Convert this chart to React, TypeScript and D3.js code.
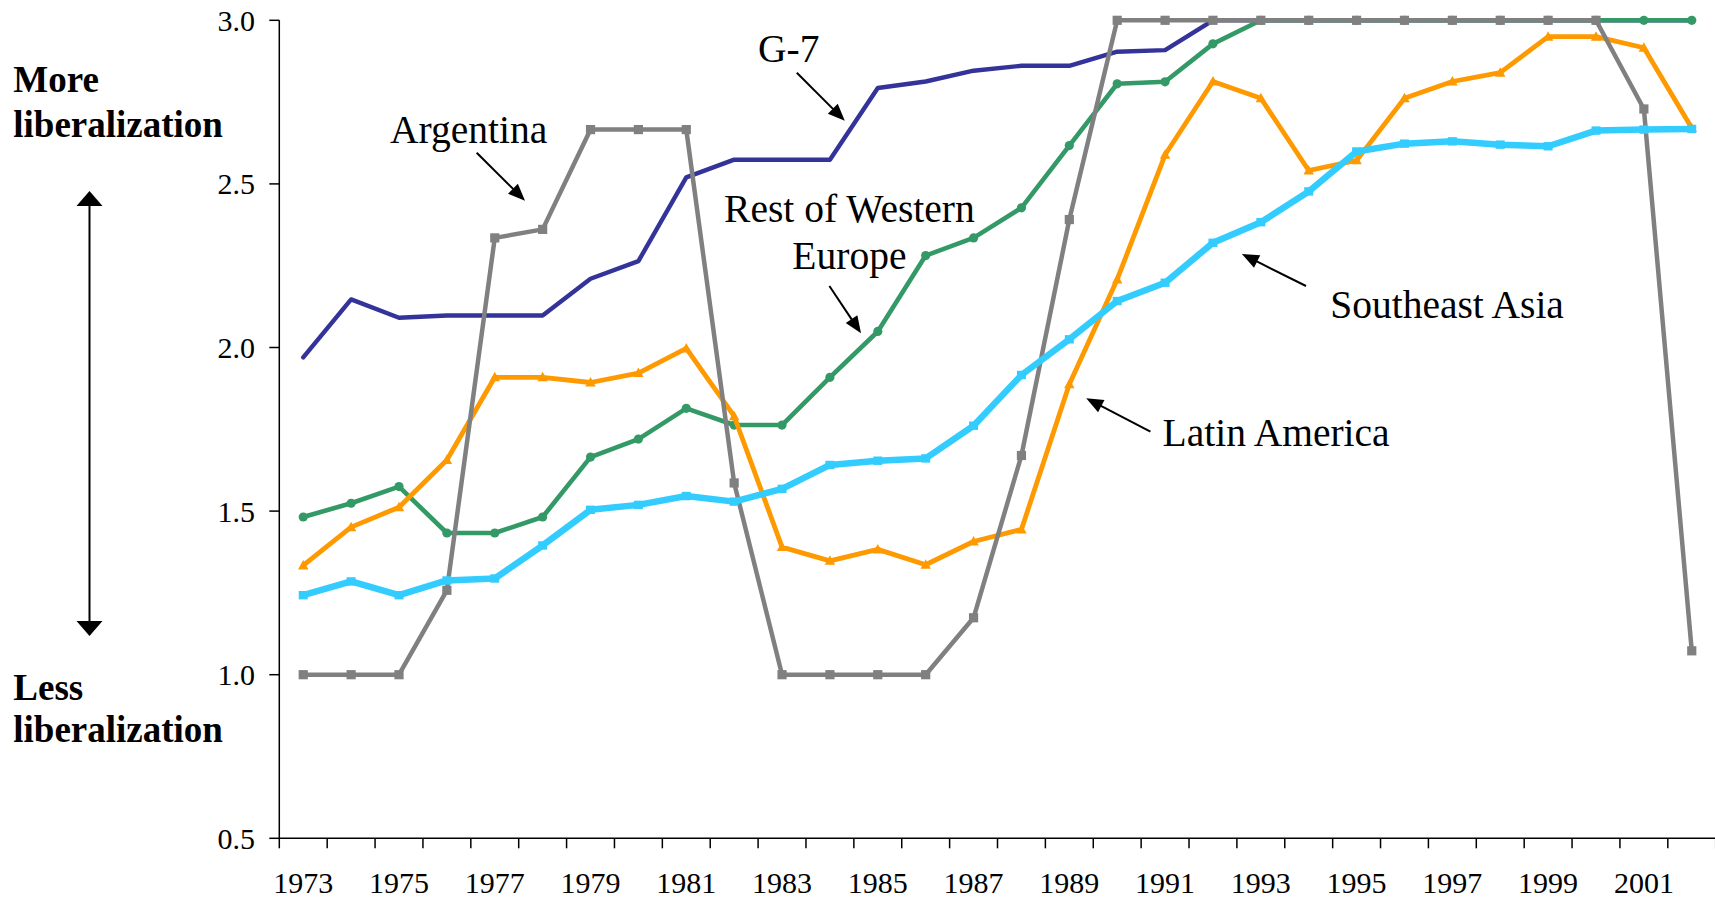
import React from "react";
import * as d3 from "d3";

const years = [1973, 1974, 1975, 1976, 1977, 1978, 1979, 1980, 1981, 1982, 1983, 1984, 1985, 1986, 1987, 1988, 1989, 1990, 1991, 1992, 1993, 1994, 1995, 1996, 1997, 1998, 1999, 2000, 2001, 2002];
const yTicks = [0.5, 1.0, 1.5, 2.0, 2.5, 3.0];
const xLabelYears = [1973, 1975, 1977, 1979, 1981, 1983, 1985, 1987, 1989, 1991, 1993, 1995, 1997, 1999, 2001];

const g7 = [1.97, 2.147, 2.091, 2.098, 2.098, 2.098, 2.21, 2.264, 2.52, 2.574, 2.574, 2.574, 2.793, 2.813, 2.846, 2.861, 2.861, 2.904, 2.909, 3.0, 3.0, 3.0, 3.0, 3.0, 3.0, 3.0, 3.0, 3.0, 3.0, 3.0];
const argentina = [1.0, 1.0, 1.0, 1.258, 2.335, 2.361, 2.666, 2.666, 2.666, 1.586, 1.0, 1.0, 1.0, 1.0, 1.174, 1.67, 2.391, 3.0, 3.0, 3.0, 3.0, 3.0, 3.0, 3.0, 3.0, 3.0, 3.0, 3.0, 2.729, 1.073];
const restWesternEurope = [1.482, 1.524, 1.575, 1.433, 1.433, 1.482, 1.665, 1.72, 1.814, 1.763, 1.763, 1.909, 2.049, 2.281, 2.335, 2.427, 2.617, 2.806, 2.812, 2.928, 3.0, 3.0, 3.0, 3.0, 3.0, 3.0, 3.0, 3.0, 3.0, 3.0];
const latinAmerica = [1.334, 1.451, 1.512, 1.656, 1.909, 1.909, 1.893, 1.922, 1.997, 1.79, 1.39, 1.348, 1.383, 1.336, 1.407, 1.444, 1.888, 2.208, 2.589, 2.813, 2.762, 2.541, 2.572, 2.762, 2.813, 2.84, 2.95, 2.95, 2.916, 2.671];
const southeastAsia = [1.243, 1.285, 1.243, 1.288, 1.294, 1.395, 1.504, 1.519, 1.546, 1.529, 1.568, 1.641, 1.654, 1.661, 1.761, 1.916, 2.025, 2.142, 2.198, 2.32, 2.383, 2.477, 2.599, 2.623, 2.63, 2.62, 2.615, 2.663, 2.666, 2.668];

const FONT = "'Liberation Serif', 'Times New Roman', Times, serif";

const W = 1715;
const H = 900;
const left = 279.3;
const right = 1715.7;
const top = 20.3;
const bottom = 838.3;

const x = d3.scaleBand<number>().domain(years).range([left, right]).padding(0);
const y = d3.scaleLinear().domain([0.5, 3.0]).range([bottom, top]);
const cx = (yr: number) => (x(yr) as number) + x.bandwidth() / 2;

type Series = { name: string; values: number[]; color: string; width: number; marker: "none" | "circle" | "square" | "triangle" | "rect" };

const series: Series[] = [
  { name: "G-7", values: g7, color: "#333399", width: 4.4, marker: "none" },
  { name: "Rest of Western Europe", values: restWesternEurope, color: "#339966", width: 4.6, marker: "circle" },
  { name: "Latin America", values: latinAmerica, color: "#FF9900", width: 4.8, marker: "triangle" },
  { name: "Argentina", values: argentina, color: "#808080", width: 4.5, marker: "square" },
  { name: "Southeast Asia", values: southeastAsia, color: "#33CCFF", width: 6.5, marker: "rect" },
];

const lineGen = d3
  .line<number>()
  .x((_, i) => cx(years[i]))
  .y((v) => y(v));

function Marker({ kind, px, py, color }: { kind: string; px: number; py: number; color: string }) {
  if (kind === "circle") return <circle cx={px} cy={py} r={4.6} fill={color} />;
  if (kind === "square") return <rect x={px - 4.6} y={py - 4.6} width={9.2} height={9.2} fill={color} />;
  if (kind === "triangle")
    return <path d={`M${px},${py - 5.5}L${px + 5.2},${py + 4}L${px - 5.2},${py + 4}Z`} fill={color} />;
  if (kind === "rect") return <rect x={px - 4.5} y={py - 4.2} width={9} height={8.4} fill={color} />;
  return null;
}

function Arrow({ x1, y1, x2, y2, head = 17, half = 7, sw = 2 }: { x1: number; y1: number; x2: number; y2: number; head?: number; half?: number; sw?: number }) {
  const dx = x2 - x1;
  const dy = y2 - y1;
  const len = Math.sqrt(dx * dx + dy * dy);
  const ux = dx / len;
  const uy = dy / len;
  const bx = x2 - ux * head;
  const by = y2 - uy * head;
  const p1 = [bx - uy * half, by + ux * half];
  const p2 = [bx + uy * half, by - ux * half];
  return (
    <g>
      <line x1={x1} y1={y1} x2={bx + ux * 2} y2={by + uy * 2} stroke="#000" strokeWidth={sw} />
      <path d={`M${x2},${y2}L${p1[0]},${p1[1]}L${p2[0]},${p2[1]}Z`} fill="#000" />
    </g>
  );
}

export default function App() {
  const boundaries = [...years.map((yr) => x(yr) as number), right];
  return (
    <svg
      width={W}
      height={H}
      viewBox={`0 0 ${W} ${H}`}
      style={{ position: "fixed", left: 0, top: 0, background: "#fff" }}
      fontFamily={FONT}
    >
      <rect x={0} y={0} width={W} height={H} fill="#fff" />

      {/* Y axis */}
      <line x1={left} y1={top} x2={left} y2={bottom} stroke="#000" strokeWidth={1.5} />
      {yTicks.map((t) => (
        <g key={t}>
          <line x1={left - 10} y1={y(t)} x2={left} y2={y(t)} stroke="#000" strokeWidth={1.5} />
          <text x={255} y={y(t) + 10.5} textAnchor="end" fontSize={30} fill="#000">
            {t.toFixed(1)}
          </text>
        </g>
      ))}

      {/* X axis */}
      <line x1={left} y1={bottom} x2={right} y2={bottom} stroke="#000" strokeWidth={1.5} />
      {boundaries.map((b, i) => (
        <line key={i} x1={b} y1={bottom} x2={b} y2={bottom + 10} stroke="#000" strokeWidth={1.5} />
      ))}
      {xLabelYears.map((yr) => (
        <text key={yr} x={cx(yr)} y={892.5} textAnchor="middle" fontSize={30} fill="#000">
          {yr}
        </text>
      ))}

      {/* Series */}
      {series.map((s) => (
        <g key={s.name}>
          <path
            d={lineGen(s.values) || ""}
            fill="none"
            stroke={s.color}
            strokeWidth={s.width}
            strokeLinejoin="round"
            strokeLinecap="round"
          />
          {s.values.map((v, i) => (
            <Marker key={i} kind={s.marker} px={cx(years[i])} py={y(v)} color={s.color} />
          ))}
        </g>
      ))}

      {/* Left side labels */}
      <g fontWeight="bold" fontSize={37} fill="#000">
        <text x={13.3} y={91.7}>More</text>
        <text x={13.3} y={137.3}>liberalization</text>
        <text x={13.3} y={700}>Less</text>
        <text x={13.3} y={741.7}>liberalization</text>
      </g>
      <line x1={89.5} y1={204} x2={89.5} y2={623} stroke="#000" strokeWidth={2} />
      <path d="M89.5,191L102.5,206L76.5,206Z" fill="#000" />
      <path d="M89.5,636L102.5,621L76.5,621Z" fill="#000" />

      {/* Annotations */}
      <g fontSize={39.5} fill="#000">
        <text x={758} y={62}>G-7</text>
        <text x={390} y={143.3}>Argentina</text>
        <text x={849.4} y={221.7} textAnchor="middle">Rest of Western</text>
        <text x={849.4} y={269.3} textAnchor="middle">Europe</text>
        <text x={1162.6} y={446}>Latin America</text>
        <text x={1330.2} y={318.3}>Southeast Asia</text>
      </g>
      <Arrow x1={796.8} y1={72.7} x2={844.8} y2={120.7} />
      <Arrow x1={476.7} y1={152.7} x2={525} y2={200.7} />
      <Arrow x1={829.4} y1={286} x2={861} y2={333.3} />
      <Arrow x1={1150.4} y1={431.7} x2={1086.2} y2={398.3} />
      <Arrow x1={1306} y1={286} x2={1241.9} y2={254} />
    </svg>
  );
}
